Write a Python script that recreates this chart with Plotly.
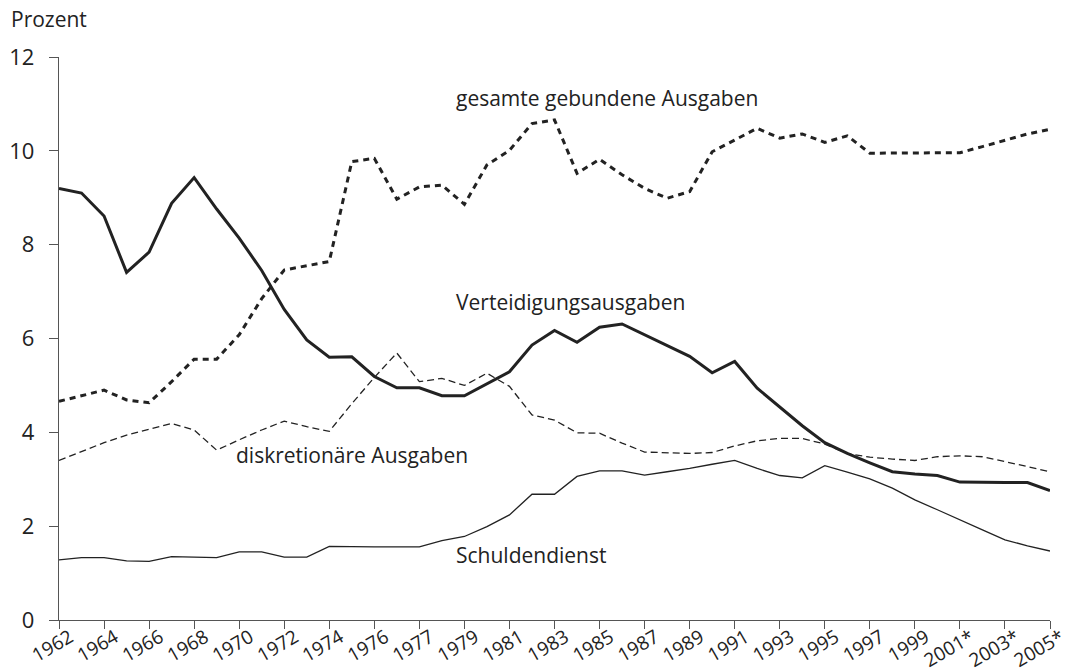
import plotly.graph_objects as go

# Categories (fiscal years; "1976Ü" = transition quarter)
categories = ([str(y) for y in range(1962, 1977)] + ["1976Ü"] +
              [str(y) for y in range(1977, 2001)] +
              [f"{y}*" for y in range(2001, 2006)])

# Tick labels shown (every other category)
tick_labels = categories[::2]

# Series values (percent of GDP)
verteidigung = [9.20, 9.10, 8.61, 7.41, 7.84, 8.88, 9.43, 8.76, 8.14, 7.45,
                6.62, 5.97, 5.60, 5.61, 5.19, 4.95, 4.95, 4.78, 4.78, 5.04,
                5.29, 5.86, 6.17, 5.92, 6.24, 6.31, 6.08, 5.86, 5.62, 5.27,
                5.51, 4.94, 4.53, 4.14, 3.78, 3.55, 3.35, 3.16, 3.11, 3.08,
                2.94, 2.93, 2.93, 2.93, 2.76]

gebunden = [4.66, 4.78, 4.90, 4.69, 4.63, 5.08, 5.56, 5.56, 6.08, 6.85,
            7.46, 7.55, 7.64, 9.77, 9.84, 8.97, 9.23, 9.27, 8.86, 9.70,
            10.01, 10.58, 10.66, 9.52, 9.82, 9.49, 9.20, 8.99, 9.13, 9.98,
            10.23, 10.48, 10.27, 10.36, 10.18, 10.32, 9.95, 9.95, 9.95, 9.95,
            9.96, 10.09, 10.23, 10.36, 10.46]

diskretionaer = [3.40, 3.59, 3.78, 3.94, 4.07, 4.19, 4.05, 3.62, 3.84, 4.05,
                 4.24, 4.12, 4.02, 4.61, 5.17, 5.69, 5.08, 5.15, 5.00, 5.26,
                 4.98, 4.37, 4.26, 3.99, 3.98, 3.77, 3.58, 3.57, 3.55, 3.57,
                 3.71, 3.82, 3.87, 3.87, 3.75, 3.55, 3.47, 3.43, 3.40, 3.48,
                 3.50, 3.48, 3.38, 3.27, 3.16]

schuldendienst = [1.28, 1.33, 1.33, 1.26, 1.25, 1.35, 1.34, 1.33, 1.45, 1.45,
                  1.34, 1.34, 1.57, 1.56, 1.56, 1.56, 1.56, 1.69, 1.78, 1.99,
                  2.24, 2.68, 2.68, 3.06, 3.18, 3.18, 3.09, 3.16, 3.23, 3.32,
                  3.40, 3.23, 3.08, 3.03, 3.29, 3.15, 3.01, 2.81, 2.56, 2.35,
                  2.13, 1.92, 1.71, 1.58, 1.47]

y_ticks = [0, 2, 4, 6, 8, 10, 12]

FONT = "Open Sans"
INK = "#222222"
AXIS = "#555555"
OFF = 8  # page body margin
W, H = 1071 - OFF, 668 - OFF
ML, MR, MT, MB = 59 - OFF, 21, 57 - OFF, 48
PW, PH = W - ML - MR, H - MT - MB

fig = go.Figure()
fig.add_trace(go.Scatter(x=categories, y=gebunden, mode="lines",
                         line=dict(color=INK, width=3, dash="6px,5px"),
                         name="gesamte gebundene Ausgaben"))
fig.add_trace(go.Scatter(x=categories, y=diskretionaer, mode="lines",
                         line=dict(color=INK, width=1.3, dash="7px,4px"),
                         name="diskretionäre Ausgaben"))
fig.add_trace(go.Scatter(x=categories, y=schuldendienst, mode="lines",
                         line=dict(color=INK, width=1.3),
                         name="Schuldendienst"))
fig.add_trace(go.Scatter(x=categories, y=verteidigung, mode="lines",
                         line=dict(color=INK, width=3),
                         name="Verteidigungsausgaben"))

labels = [
    ("gesamte gebundene Ausgaben", 17.57, 11.13),
    ("Verteidigungsausgaben", 17.57, 6.78),
    ("diskretionäre Ausgaben", 7.8, 3.52),
    ("Schuldendienst", 17.57, 1.39),
]
for text, xi, yv in labels:
    fig.add_annotation(x=xi, y=yv, xref="x", yref="y", text=text,
                       showarrow=False, xanchor="left", yanchor="middle",
                       borderpad=0,
                       font=dict(family=FONT, size=21, color=INK))

fig.add_annotation(x=(10 - OFF - ML) / PW, y=1 + (MT - (19 - OFF)) / PH,
                   xref="paper", yref="paper", text="Prozent",
                   showarrow=False, xanchor="left", yanchor="middle",
                   borderpad=0,
                   font=dict(family=FONT, size=21, color=INK))

fig.update_layout(
    width=W, height=H,
    margin=dict(l=ML, r=MR, t=MT, b=MB, autoexpand=False),
    paper_bgcolor="white", plot_bgcolor="white",
    showlegend=False,
    font=dict(family=FONT, size=20, color=INK),
)

fig.update_xaxes(type="category", range=[0, len(categories) - 1],
                 tickmode="array", tickvals=tick_labels, ticktext=tick_labels,
                 tickangle=-30, ticks="outside", ticklen=8, tickcolor=AXIS,
                 tickwidth=1.3, showline=True, linecolor=AXIS, linewidth=1.3,
                 showgrid=False, zeroline=False, automargin=False,
                 ticklabelstandoff=-10, ticklabelshift=11,
                 tickfont=dict(family=FONT, size=19, color=INK))
fig.update_yaxes(range=[0, 12], tickvals=y_ticks, ticks="outside", ticklen=9,
                 tickcolor=AXIS, tickwidth=1.3, showline=True, linecolor=AXIS,
                 linewidth=1.3, showgrid=False, zeroline=False, automargin=False,
                 ticklabelstandoff=10,
                 tickfont=dict(family=FONT, size=22, color=INK))

fig.write_html("out.html")
